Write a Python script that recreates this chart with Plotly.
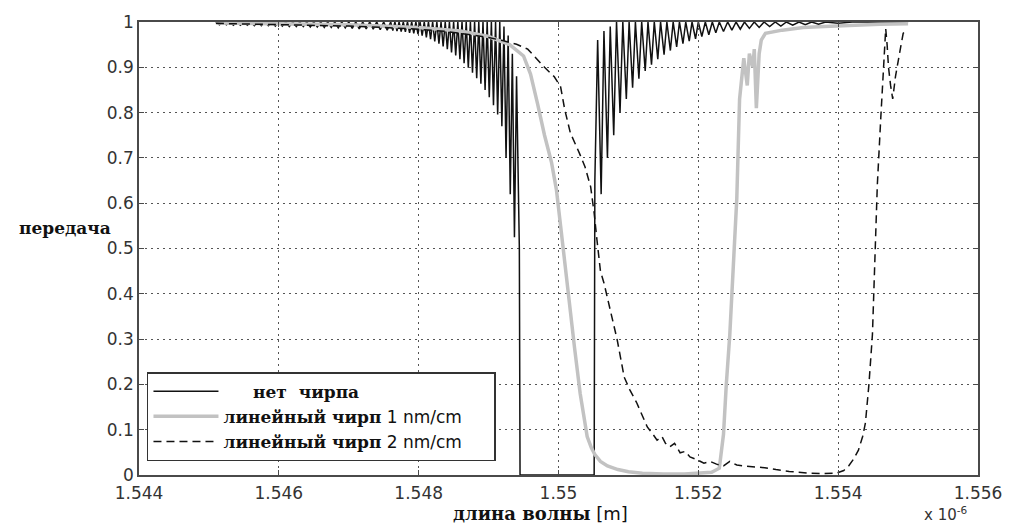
import plotly.graph_objects as go

# ---------------- data (wavelength in micrometres, i.e. x 1e-6 m) ----------------
# no chirp (uniform grating): sidelobe comb (max / min alternating)
nochirp_x = [
    1.54510, 1.54515, 1.54520, 1.54525, 1.54530, 1.54535, 1.54540, 1.54545, 1.54550, 1.54555,
    1.54560, 1.54565, 1.54570, 1.54575, 1.54580, 1.54585, 1.54590, 1.54595, 1.54600, 1.54605,
    1.54610, 1.54615, 1.54620, 1.54625, 1.54630, 1.54635, 1.54640, 1.54645, 1.54650, 1.54655,
    1.54660, 1.54665, 1.54670, 1.54675, 1.54680, 1.54685, 1.54690, 1.54695, 1.54700, 1.54705,
    1.54710, 1.54715, 1.54720, 1.54725, 1.54730, 1.54735, 1.54740, 1.54745, 1.54750, 1.54755,
    1.54760, 1.54763, 1.54766, 1.54769, 1.54772, 1.54775, 1.54778, 1.54781, 1.54784, 1.54787,
    1.54790, 1.54793, 1.54796, 1.54799, 1.54802, 1.54805, 1.54808, 1.54811, 1.54814, 1.54817,
    1.54820, 1.54823, 1.54826, 1.54829, 1.54832, 1.54835, 1.54838, 1.54841, 1.54844, 1.54847,
    1.54850, 1.54853, 1.54856, 1.54859, 1.54862, 1.54865, 1.54868, 1.54871, 1.54874, 1.54877,
    1.54880, 1.54883, 1.54886, 1.54889, 1.54892, 1.54895, 1.54898, 1.54901, 1.54904, 1.54907,
    1.54910, 1.54913, 1.54916, 1.54919, 1.54922, 1.54925, 1.54928, 1.54931, 1.54934, 1.54937,
    1.54940, 1.54944, 1.54945, 1.55051, 1.55052, 1.55056, 1.55061, 1.55065, 1.55070, 1.55074,
    1.55079, 1.55083, 1.55088, 1.55092, 1.55097, 1.55101, 1.55106, 1.55110, 1.55115, 1.55119,
    1.55124, 1.55128, 1.55133, 1.55137, 1.55142, 1.55146, 1.55151, 1.55155, 1.55160, 1.55164,
    1.55169, 1.55173, 1.55178, 1.55182, 1.55187, 1.55191, 1.55196, 1.55200, 1.55205, 1.55210,
    1.55215, 1.55220, 1.55225, 1.55230, 1.55236, 1.55242, 1.55248, 1.55254, 1.55260, 1.55266,
    1.55273, 1.55280, 1.55287, 1.55294, 1.55302, 1.55310, 1.55318, 1.55326, 1.55335, 1.55344,
    1.55353, 1.55362, 1.55372, 1.55382, 1.55400, 1.55420, 1.55500,
]
nochirp_t = [
    1.000, 0.994, 1.000, 0.994, 1.000, 0.993, 1.000, 0.993, 1.000, 0.993,
    1.000, 0.992, 1.000, 0.992, 1.000, 0.992, 1.000, 0.991, 1.000, 0.991,
    1.000, 0.990, 1.000, 0.990, 1.000, 0.990, 1.000, 0.989, 1.000, 0.989,
    1.000, 0.988, 1.000, 0.988, 1.000, 0.987, 1.000, 0.987, 1.000, 0.986,
    1.000, 0.985, 1.000, 0.985, 1.000, 0.984, 1.000, 0.983, 1.000, 0.982,
    1.000, 0.981, 1.000, 0.980, 1.000, 0.979, 1.000, 0.978, 1.000, 0.976,
    1.000, 0.975, 1.000, 0.973, 1.000, 0.970, 1.000, 0.966, 1.000, 0.962,
    1.000, 0.957, 1.000, 0.952, 1.000, 0.946, 1.000, 0.940, 1.000, 0.933,
    1.000, 0.926, 1.000, 0.918, 1.000, 0.909, 1.000, 0.899, 1.000, 0.888,
    1.000, 0.876, 1.000, 0.864, 1.000, 0.850, 1.000, 0.834, 1.000, 0.816,
    1.000, 0.796, 1.000, 0.770, 0.990, 0.700, 0.970, 0.620, 0.930, 0.525,
    0.880, 0.500, 0.000, 0.000, 0.650, 0.960, 0.620, 0.980, 0.700, 0.990,
    0.750, 1.000, 0.800, 1.000, 0.830, 1.000, 0.855, 1.000, 0.875, 1.000,
    0.892, 1.000, 0.906, 1.000, 0.918, 1.000, 0.928, 1.000, 0.937, 1.000,
    0.945, 1.000, 0.952, 1.000, 0.958, 1.000, 0.963, 1.000, 0.968, 1.000,
    0.972, 1.000, 0.976, 1.000, 0.979, 1.000, 0.982, 1.000, 0.984, 1.000,
    0.986, 1.000, 0.988, 1.000, 0.990, 1.000, 0.991, 1.000, 0.993, 1.000,
    0.994, 1.000, 0.995, 1.000, 0.997, 1.000, 1.000,
]

# linear chirp 1 nm/cm
chirp1_x = [
    1.5451, 1.5460, 1.5470, 1.5480, 1.5486, 1.5490, 1.5493, 1.5495, 1.5496, 1.5497,
    1.5498, 1.5499, 1.54997, 1.55003, 1.55008, 1.55013, 1.55018, 1.55023, 1.55031, 1.55037,
    1.55041, 1.55047, 1.55052, 1.55060, 1.55070, 1.55085, 1.55100, 1.55120, 1.55150, 1.55180,
    1.55200, 1.55219, 1.55230, 1.55236, 1.55240, 1.55245, 1.55250, 1.55255, 1.55259, 1.55265,
    1.55270, 1.55273, 1.55278, 1.55280, 1.55283, 1.55287, 1.55290, 1.55296, 1.55320, 1.55350,
    1.55380, 1.55420, 1.55460, 1.55500,
]
chirp1_t = [
    0.998, 0.997, 0.994, 0.988, 0.980, 0.968, 0.950, 0.925, 0.885, 0.820,
    0.750, 0.690, 0.630, 0.550, 0.480, 0.420, 0.350, 0.280, 0.180, 0.120,
    0.085, 0.060, 0.045, 0.030, 0.020, 0.012, 0.007, 0.004, 0.002, 0.002,
    0.004, 0.006, 0.015, 0.090, 0.200, 0.310, 0.460, 0.610, 0.830, 0.920,
    0.860, 0.930, 0.900, 0.940, 0.810, 0.930, 0.960, 0.975, 0.982, 0.988,
    0.990, 0.993, 0.995, 0.996,
]

# linear chirp 2 nm/cm
chirp2_x = [
    1.5451, 1.5455, 1.5460, 1.5465, 1.5470, 1.5475, 1.5480, 1.5484, 1.5487, 1.5490,
    1.5492, 1.5494, 1.54956, 1.5497, 1.5498, 1.54994, 1.55003, 1.55009, 1.55017, 1.5503,
    1.55038, 1.55046, 1.55051, 1.55055, 1.5506, 1.55065, 1.55074, 1.55084, 1.55094, 1.55102,
    1.55112, 1.55127, 1.55135, 1.55141, 1.55148, 1.55153, 1.55159, 1.55166, 1.55174, 1.55181,
    1.55188, 1.55198, 1.55208, 1.55217, 1.55226, 1.55236, 1.55245, 1.55255, 1.55265, 1.5528,
    1.55295, 1.55311, 1.5533, 1.55358, 1.5538, 1.55397, 1.55408, 1.55415, 1.55422, 1.55429,
    1.55435, 1.55439, 1.55444, 1.55449, 1.55451, 1.55454, 1.55456, 1.55461, 1.55465, 1.55468,
    1.55470, 1.55472, 1.55475, 1.55478, 1.55482, 1.55486, 1.55490, 1.55493, 1.55498,
]
chirp2_t = [
    0.997, 0.996, 0.995, 0.993, 0.991, 0.988, 0.984, 0.979, 0.973, 0.966,
    0.959, 0.951, 0.940, 0.916, 0.900, 0.879, 0.857, 0.806, 0.755, 0.710,
    0.680, 0.636, 0.578, 0.519, 0.450, 0.424, 0.364, 0.298, 0.216, 0.188,
    0.159, 0.106, 0.090, 0.077, 0.085, 0.070, 0.062, 0.070, 0.049, 0.052,
    0.040, 0.034, 0.026, 0.030, 0.024, 0.020, 0.030, 0.022, 0.020, 0.018,
    0.016, 0.012, 0.008, 0.004, 0.003, 0.004, 0.010, 0.020, 0.035, 0.055,
    0.085, 0.115, 0.200, 0.310, 0.420, 0.530, 0.640, 0.790, 0.900, 0.985,
    0.950, 0.900, 0.860, 0.830, 0.880, 0.920, 0.950, 0.975, 0.985,
]

x_ticks = [1.544, 1.546, 1.548, 1.550, 1.552, 1.554, 1.556]
x_ticktext = ["1.544", "1.546", "1.548", "1.55", "1.552", "1.554", "1.556"]
y_ticks = [0, 0.1, 0.2, 0.3, 0.4, 0.5, 0.6, 0.7, 0.8, 0.9, 1.0]
y_ticktext = ["0", "0.1", "0.2", "0.3", "0.4", "0.5", "0.6", "0.7", "0.8", "0.9", "1"]

name_nochirp = "<b>\u00a0\u00a0\u00a0\u00a0\u00a0нет\u00a0\u00a0чирпа</b>"
name_chirp1 = ("<b>линейный чирп</b><span style='font-family:DejaVu Sans'> 1 nm/cm"
               "\u00a0\u00a0\u00a0\u00a0\u00a0</span>")
name_chirp2 = "<b>линейный чирп</b><span style='font-family:DejaVu Sans'> 2 nm/cm</span>"

# ---------------- figure ----------------
fig = go.Figure()
fig.add_trace(go.Scatter(x=nochirp_x, y=nochirp_t, mode="lines", name=name_nochirp,
                         line=dict(color="#111111", width=1.5)))
fig.add_trace(go.Scatter(x=chirp1_x, y=chirp1_t, mode="lines", name=name_chirp1,
                         line=dict(color="#c2c2c2", width=3.5)))
fig.add_trace(go.Scatter(x=chirp2_x, y=chirp2_t, mode="lines", name=name_chirp2,
                         line=dict(color="#111111", width=1.5, dash="8px,5px")))

axis_common = dict(
    showgrid=True, gridcolor="#555555", griddash="2px,4px", gridwidth=1,
    showline=True, linecolor="#4a4a4a", linewidth=1.6, mirror="ticks",
    ticks="inside", ticklen=5, tickcolor="#4a4a4a", zeroline=False,
    tickfont=dict(family="DejaVu Sans", size=17, color="#333333"),
)

fig.update_layout(
    width=1014, height=524,
    margin=dict(l=139, r=31, t=22, b=49),
    paper_bgcolor="white", plot_bgcolor="white",
    xaxis=dict(range=[1.544, 1.556], tickvals=x_ticks, ticktext=x_ticktext,
               ticklabelstandoff=2, **axis_common),
    yaxis=dict(range=[0, 1], tickvals=y_ticks, ticktext=y_ticktext, **axis_common),
    showlegend=True,
    legend=dict(
        x=0.0095, y=0.227, xanchor="left", yanchor="top",
        bgcolor="white", bordercolor="#333333", borderwidth=1.5,
        font=dict(family="DejaVu Serif", size=17, color="#111111"),
        itemwidth=65, tracegroupgap=0,
    ),
    annotations=[
        dict(text="<b>передача</b>", xref="paper", yref="paper", x=-0.031, y=0.545,
             xanchor="right", yanchor="middle", showarrow=False,
             font=dict(family="DejaVu Serif", size=17, color="#111111")),
        dict(text="<b>длина волны</b><span style='font-family:DejaVu Sans'> [m]</span>",
             xref="paper", yref="paper", x=0.479, y=-0.085,
             xanchor="center", yanchor="middle", showarrow=False,
             font=dict(family="DejaVu Serif", size=18, color="#111111")),
        dict(text="x 10<sup>-6</sup>", xref="paper", yref="paper", x=0.99, y=-0.087,
             xanchor="right", yanchor="middle", showarrow=False,
             font=dict(family="DejaVu Sans", size=15, color="#333333")),
    ],
)

fig.write_html("out.html", config={"displayModeBar": False},
               post_script="document.body.style.margin='0';")
